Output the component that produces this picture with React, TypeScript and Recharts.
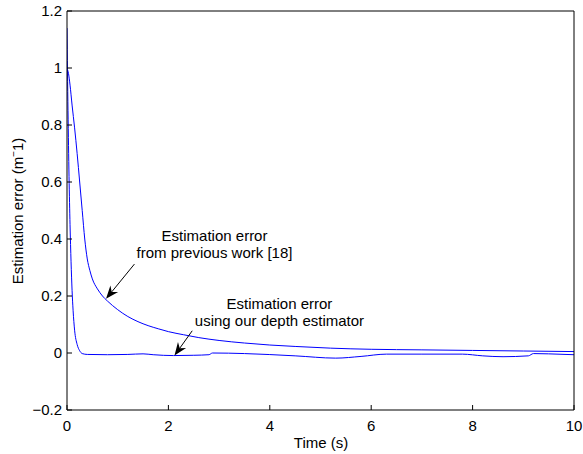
import React from 'react';
import { LineChart, Line, XAxis, YAxis, ReferenceLine, ReferenceDot, Label } from 'recharts';

// previous work [18]
const timePrev = [0, 0.03, 0.06, 0.1, 0.15, 0.2, 0.25, 0.3, 0.35, 0.4, 0.45, 0.5, 0.6, 0.7, 0.8, 1.0, 1.2, 1.4, 1.6, 1.8, 2.0, 2.3, 2.6, 3.0, 3.5, 4.0, 4.5, 5.2, 6, 7, 8, 9, 10];
const errPrev = [1.0, 0.98, 0.94, 0.87, 0.79, 0.7, 0.6, 0.5, 0.4, 0.33, 0.29, 0.26, 0.225, 0.2, 0.182, 0.152, 0.128, 0.11, 0.096, 0.085, 0.075, 0.064, 0.054, 0.044, 0.035, 0.028, 0.023, 0.017, 0.013, 0.011, 0.009, 0.007, 0.005];

// our depth estimator
const timeOurs = [0, 0.02, 0.04, 0.06, 0.08, 0.1, 0.12, 0.15, 0.2, 0.25, 0.3, 0.4, 0.8, 1.2, 1.5, 1.7, 2.1, 2.5, 2.8, 2.87, 3.5, 4.5, 5.3, 5.8, 6.3, 7, 7.8, 8.2, 8.6, 9.1, 9.2, 9.5, 10];
const errOurs = [1.14, 0.85, 0.62, 0.45, 0.32, 0.22, 0.15, 0.08, 0.03, 0.008, -0.002, -0.005, -0.006, -0.005, -0.003, -0.006, -0.009, -0.008, -0.006, 0.0, -0.002, -0.01, -0.018, -0.012, -0.004, -0.004, -0.004, -0.01, -0.013, -0.01, -0.002, -0.003, -0.006];

const xTicks = [0, 2, 4, 6, 8, 10];
const yTicks = [-0.2, 0, 0.2, 0.4, 0.6, 0.8, 1, 1.2];

const prevData = timePrev.map((t, i) => ({ t, err: errPrev[i] }));
const oursData = timeOurs.map((t, i) => ({ t, err: errOurs[i] }));

const FONT = '"Liberation Sans", Arial, Helvetica, sans-serif';
const FS = 15;

const fmt = (v: number) => (v < 0 ? '\u2212' + String(-v) : String(v));

const Arrow = (props: any) => {
  const { x1, y1, x2, y2 } = props;
  const ang = Math.atan2(y2 - y1, x2 - x1);
  const len = 13, half = 5, notch = 9;
  const cos = Math.cos(ang), sin = Math.sin(ang);
  const bx = x2 - len * cos, by = y2 - len * sin;
  const nx = x2 - notch * cos, ny = y2 - notch * sin;
  const pts = [
    [x2, y2],
    [bx - half * sin, by + half * cos],
    [nx, ny],
    [bx + half * sin, by - half * cos],
  ].map((p) => p.join(',')).join(' ');
  return (
    <g>
      <line x1={x1} y1={y1} x2={nx} y2={ny} stroke="#000" strokeWidth={1} />
      <polygon points={pts} fill="#000" />
    </g>
  );
};

const Note = (lines: string[]) => (props: any) => {
  const { cx, cy } = props;
  return (
    <text x={cx} y={cy} textAnchor="middle" fontFamily={FONT} fontSize={FS} fill="#000">
      {lines.map((l, i) => (
        <tspan key={i} x={cx} dy={i === 0 ? 0 : 17}>{l}</tspan>
      ))}
    </text>
  );
};

const App: React.FC = () => {
  return (
    <div style={{ position: 'absolute', left: 0, top: 0, background: '#fff' }}>
      <LineChart width={583} height={454} margin={{ top: 10, right: 8, bottom: 0, left: 0 }}>
        <XAxis
          dataKey="t"
          type="number"
          domain={[0, 10]}
          ticks={xTicks}
          allowDataOverflow
          height={44}
          stroke="#000"
          tickSize={-5}
          tickMargin={15}
          tick={{ fill: '#000', fontSize: FS, fontFamily: FONT }}
        >
          <Label
            content={() => (
              <text x={321} y={448} textAnchor="middle" fontFamily={FONT} fontSize={FS} fill="#000">Time (s)</text>
            )}
          />
        </XAxis>
        <XAxis
          xAxisId="top"
          orientation="top"
          dataKey="t"
          type="number"
          domain={[0, 10]}
          ticks={xTicks}
          height={1}
          stroke="#000"
          tickSize={-5}
          tick={false}
        />
        <YAxis
          type="number"
          domain={[-0.2, 1.2]}
          ticks={yTicks}
          allowDataOverflow
          width={67}
          stroke="#000"
          tickSize={-5}
          tickMargin={10}
          tickFormatter={fmt}
          tick={{ fill: '#000', fontSize: FS, fontFamily: FONT }}
        >
          <Label
            content={() => (
              <text x={23} y={211} transform="rotate(-90, 23, 211)" textAnchor="middle" fontFamily={FONT} fontSize={FS} fill="#000">
                Estimation error (m<tspan dy={-6} fontSize={10}>{'\u2212'}</tspan><tspan dy={6}>1)</tspan>
              </text>
            )}
          />
        </YAxis>
        <YAxis
          yAxisId="right"
          orientation="right"
          type="number"
          domain={[-0.2, 1.2]}
          ticks={yTicks}
          width={1}
          stroke="#000"
          tickSize={-5}
          tick={false}
        />
        <Line data={prevData} dataKey="err" type="monotone" stroke="#0000ff" strokeWidth={1} dot={false} isAnimationActive={false} />
        <Line data={oursData} dataKey="err" type="monotone" stroke="#0000ff" strokeWidth={1} dot={false} isAnimationActive={false} />
        <ReferenceLine segment={[{ x: 1.33, y: 0.312 }, { x: 0.77, y: 0.19 }]} shape={Arrow} ifOverflow="visible" />
        <ReferenceLine segment={[{ x: 2.47, y: 0.078 }, { x: 2.12, y: -0.009 }]} shape={Arrow} ifOverflow="visible" />
        <ReferenceDot x={2.91} y={0.393} r={0} shape={Note(['Estimation error', 'from previous work [18]'])} ifOverflow="visible" />
        <ReferenceDot x={4.19} y={0.154} r={0} shape={Note(['Estimation error', 'using our depth estimator'])} ifOverflow="visible" />
      </LineChart>
    </div>
  );
};

export default App;
